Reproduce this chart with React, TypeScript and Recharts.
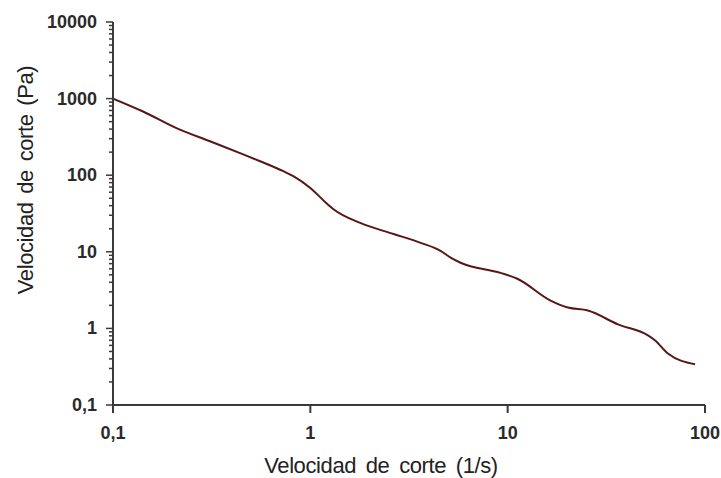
import React from "react";
import { LineChart, Line, XAxis, YAxis } from "recharts";

// shear rate (1/s)
const shearRate: number[] = [
    0.1, 0.142, 0.211, 0.31, 0.457, 0.557, 0.73, 0.82, 1.0, 1.22, 1.31, 1.79,
    2.64, 3.62, 4.57, 5.14, 5.77, 9.2, 11.2, 16.5, 20.2, 25.5, 36.2, 51.4,
    55.7, 64.9, 89,
];

// stress (Pa)
const stress: number[] = [
    1000, 678, 408, 277, 187, 152, 113, 97, 68, 42, 36, 23.8,
    17.1, 13.1, 10.3, 8.4, 7.2, 5.3, 4.45, 2.31, 1.87, 1.71, 1.13, 0.81,
    0.7, 0.47, 0.34,
];

const xTicks: number[] = [0.1, 1, 10, 100];
const yMajor: number[] = [0.1, 1, 10, 100, 1000, 10000];
const minorSteps: number[] = [2, 3, 4, 5, 6, 7, 8, 9];

const yTicks: number[] = yMajor
    .slice(0, -1)
    .flatMap((m) => minorSteps.map((k) => m * k))
    .concat(yMajor);

const data = shearRate.map((x, i) => ({ x, y: stress[i] }));

const fmt = (v: number): string => String(v).replace(".", ",");

const isMajor = (v: number): boolean =>
    Math.abs(Math.log10(v) - Math.round(Math.log10(v))) < 1e-6;

const AXIS = "#3a3a3a";
const FONT = "'Liberation Sans', Arial, sans-serif";
const TICK_COLOR = "#2a2a2a";

interface TickProps {
    x?: number;
    y?: number;
    payload?: { value: number };
}

const YTick = ({ x = 0, y = 0, payload }: TickProps): React.ReactElement => {
    const v = payload ? payload.value : 0;
    const major = isMajor(v);
    return (
        <g>
            <line x1={x - (major ? 7 : 4)} y1={y} x2={x} y2={y} stroke={AXIS} strokeWidth={1.5} />
            {major && (
                <text
                    x={x - 16}
                    y={y}
                    textAnchor="end"
                    dominantBaseline="central"
                    fontSize={18}
                    fontWeight={600}
                    fill={TICK_COLOR}
                    fontFamily={FONT}
                >
                    {fmt(v)}
                </text>
            )}
        </g>
    );
};

const XTick = ({ x = 0, y = 0, payload }: TickProps): React.ReactElement => (
    <text
        x={x}
        y={y + 18}
        textAnchor="middle"
        dominantBaseline="central"
        fontSize={18}
        fontWeight={600}
        fill={TICK_COLOR}
        fontFamily={FONT}
    >
        {fmt(payload ? payload.value : 0)}
    </text>
);

export default function App(): React.ReactElement {
    return (
        <div style={{ position: "absolute", left: 0, top: 0, width: 721, height: 478, background: "#fff" }}>
            <LineChart
                width={721}
                height={478}
                data={data}
                margin={{ top: 22, right: 16, left: 5, bottom: 43 }}
            >
                <XAxis
                    dataKey="x"
                    type="number"
                    scale="log"
                    domain={[0.1, 100]}
                    ticks={xTicks}
                    interval={0}
                    allowDataOverflow
                    height={30}
                    stroke={AXIS}
                    strokeWidth={2}
                    tickSize={8}
                    tick={<XTick />}
                    label={{
                        content: () => (
                            <text
                                x={381}
                                y={465}
                                textAnchor="middle"
                                dominantBaseline="central"
                                fontSize={22}
                                fill="#222"
                                fontFamily={FONT}
                                letterSpacing={-0.4}
                                wordSpacing={4}
                            >
                                Velocidad de corte (1/s)
                            </text>
                        ),
                    }}
                />
                <YAxis
                    dataKey="y"
                    type="number"
                    scale="log"
                    domain={[0.1, 10000]}
                    ticks={yTicks}
                    interval={0}
                    allowDataOverflow
                    width={108}
                    stroke={AXIS}
                    strokeWidth={2}
                    tickLine={false}
                    tickSize={0}
                    tickMargin={0}
                    tick={<YTick />}
                    label={{
                        content: () => (
                            <text
                                x={25}
                                y={180}
                                transform="rotate(-90, 25, 180)"
                                textAnchor="middle"
                                dominantBaseline="central"
                                fontSize={22}
                                fill="#222"
                                fontFamily={FONT}
                                letterSpacing={-0.4}
                                wordSpacing={3}
                            >
                                Velocidad de corte (Pa)
                            </text>
                        ),
                    }}
                />
                <Line
                    type="monotone"
                    dataKey="y"
                    stroke="#5a1616"
                    strokeWidth={2}
                    dot={false}
                    isAnimationActive={false}
                />
            </LineChart>
        </div>
    );
}
